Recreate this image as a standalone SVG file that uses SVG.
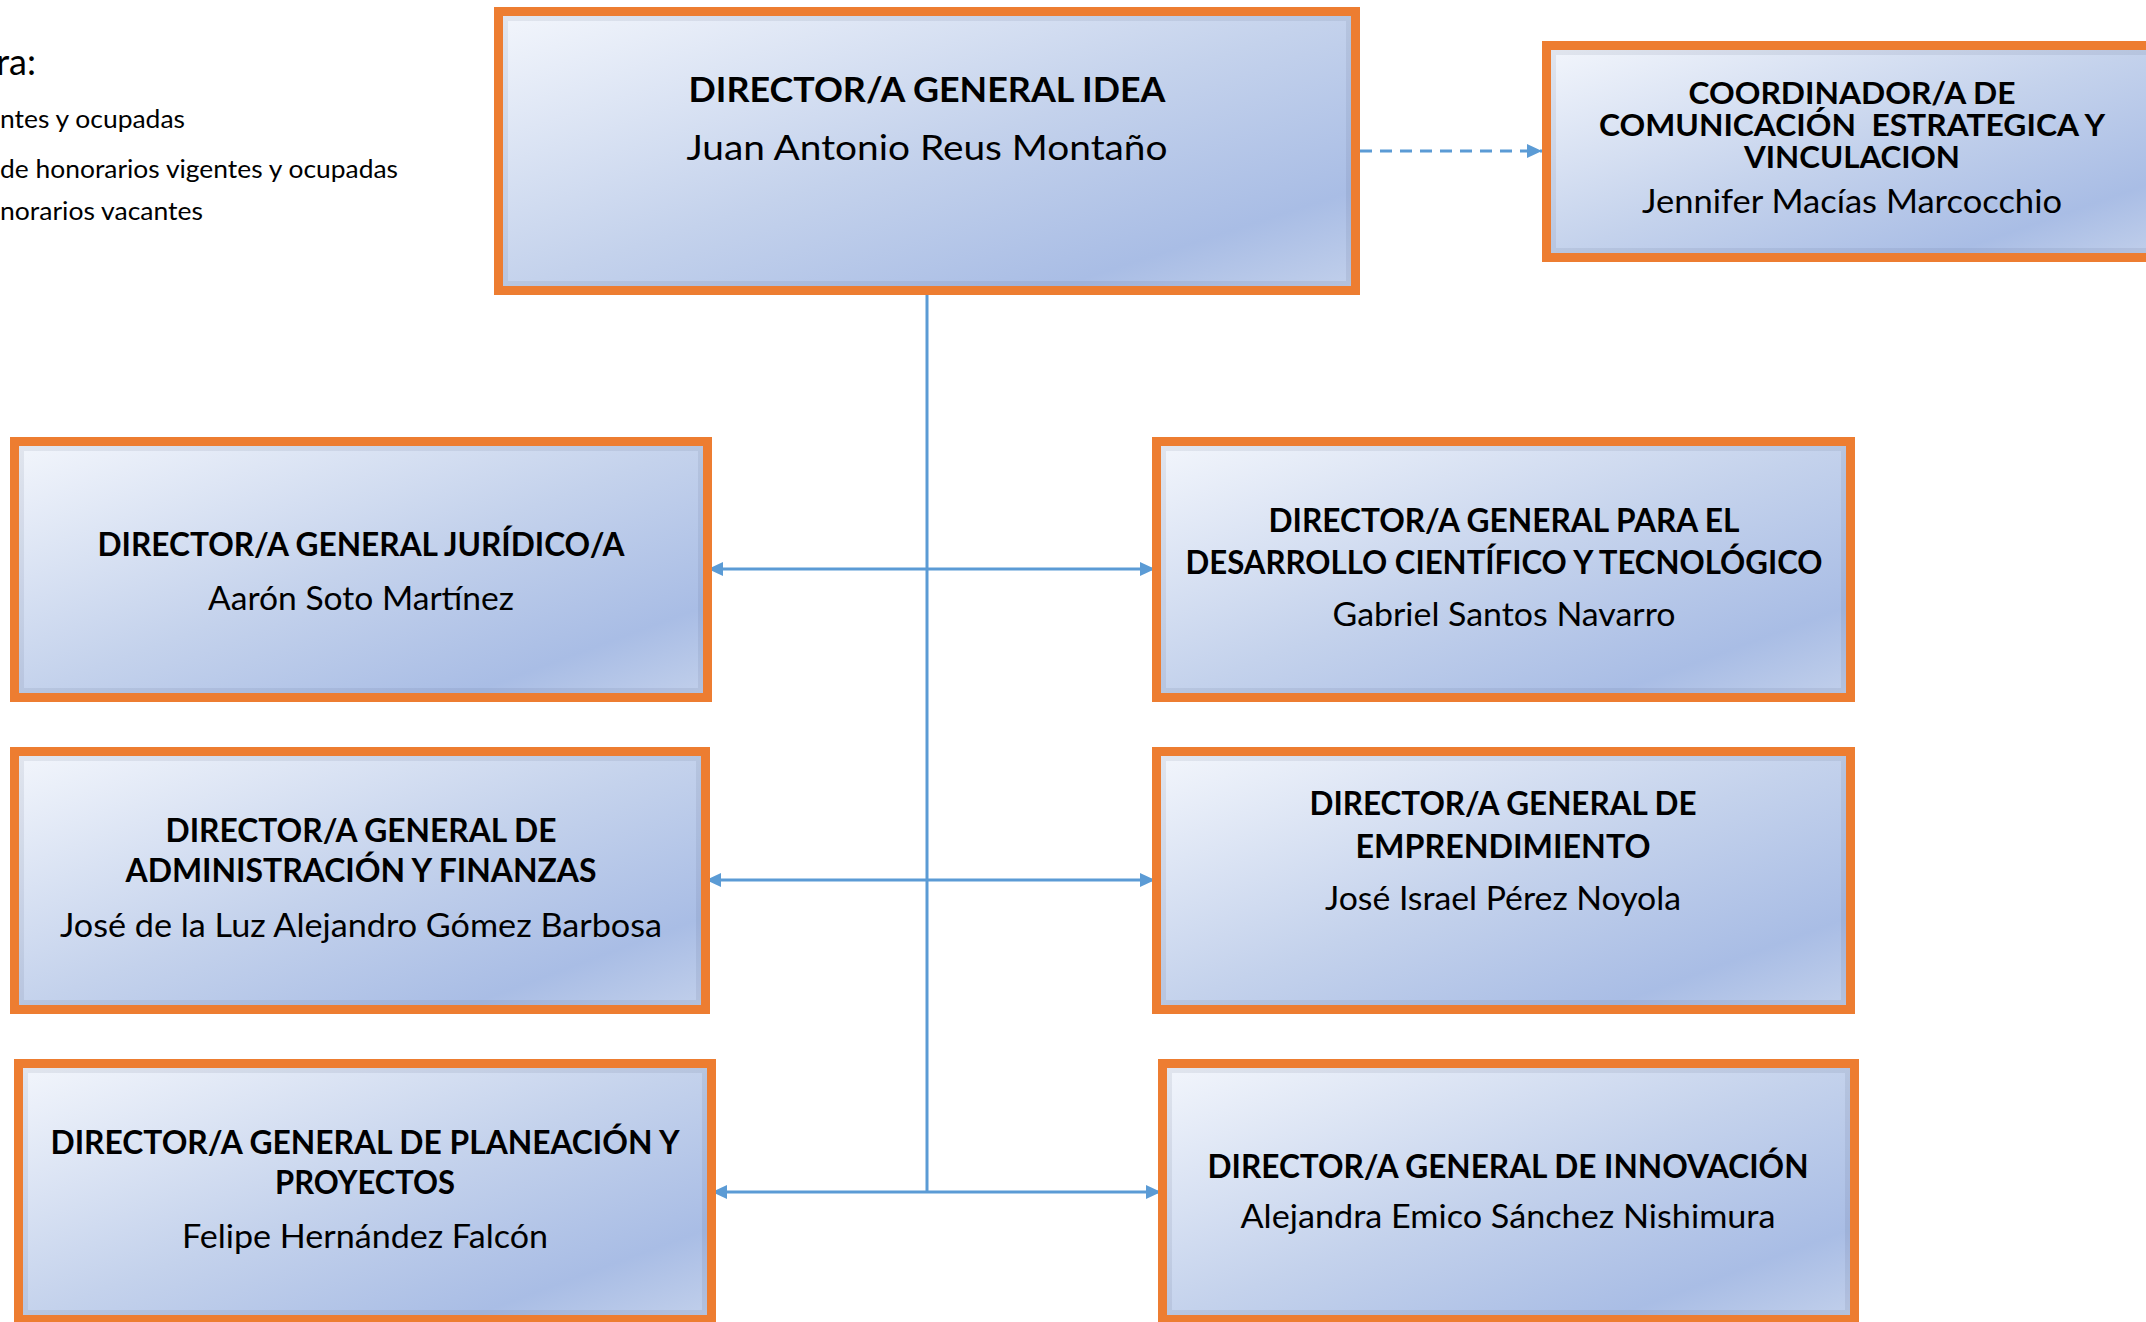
<svg xmlns="http://www.w3.org/2000/svg" width="2146" height="1322" viewBox="0 0 2146 1322">
<defs>
<linearGradient id="g" x1="0" y1="0" x2="1" y2="1">
<stop offset="0" stop-color="#F3F6FC"/>
<stop offset="0.5" stop-color="#C4D2EC"/>
<stop offset="0.82" stop-color="#A9BDE5"/>
<stop offset="1" stop-color="#C2D0EB"/>
</linearGradient>
<marker id="ah" markerUnits="userSpaceOnUse" markerWidth="16" markerHeight="15" refX="15" refY="7" orient="auto-start-reverse" viewBox="0 0 16 15">
<path d="M0,0 L15,7 L0,14 z" fill="#5B9BD5"/>
</marker>
</defs>
<style>
.bx{fill:url(#g);stroke:#ED7D31;stroke-width:9}
.sh{fill:none;stroke:#3C4664;stroke-opacity:0.09;stroke-width:5}
.t{font-family:Lato,"Liberation Sans",sans-serif;font-weight:bold;font-size:32px;text-anchor:middle;fill:#000}
.n{font-family:Lato,"Liberation Sans",sans-serif;font-weight:normal;font-size:33px;text-anchor:middle;fill:#000}
.lg{font-family:Lato,"Liberation Sans",sans-serif;font-size:25px;text-anchor:end;fill:#000}
.cn{fill:none;stroke:#5B9BD5;stroke-width:3}
</style>
<rect width="2146" height="1322" fill="#FFFFFF"/>

<g id="legend">
<text class="lg" x="36" y="75" style="font-size:36px">ra:</text>
<text class="lg" x="185" y="128" textLength="185" lengthAdjust="spacingAndGlyphs">ntes y ocupadas</text>
<text class="lg" x="398" y="178" textLength="398" lengthAdjust="spacingAndGlyphs">de honorarios vigentes y ocupadas</text>
<text class="lg" x="203" y="220" textLength="203" lengthAdjust="spacingAndGlyphs">norarios vacantes</text>
</g>

<g id="connectors">
<line class="cn" x1="927" y1="295" x2="927" y2="1192"/>
<line class="cn" x1="708" y1="569" x2="1155" y2="569" marker-start="url(#ah)" marker-end="url(#ah)"/>
<line class="cn" x1="706" y1="880" x2="1155" y2="880" marker-start="url(#ah)" marker-end="url(#ah)"/>
<line class="cn" x1="712" y1="1192" x2="1161" y2="1192" marker-start="url(#ah)" marker-end="url(#ah)"/>
<line class="cn" x1="1360" y1="151" x2="1542" y2="151" stroke-dasharray="12 8" marker-end="url(#ah)"/>
</g>

<g id="director-general">
<rect class="bx" x="498.5" y="11.5" width="857" height="279"/>
<rect class="sh" x="505.5" y="18.5" width="843" height="265"/>
<text class="t" x="927" y="102" style="font-size:34px" textLength="477" lengthAdjust="spacingAndGlyphs">DIRECTOR/A GENERAL IDEA</text>
<text class="n" x="927" y="160" style="font-size:35px" textLength="481" lengthAdjust="spacingAndGlyphs">Juan Antonio Reus Montaño</text>
</g>

<g id="coordinador-comunicacion">
<rect class="bx" x="1546.5" y="45.5" width="611" height="212"/>
<rect class="sh" x="1553.5" y="52.5" width="597" height="198"/>
<text class="t" x="1852" y="104" style="font-size:31px" textLength="327" lengthAdjust="spacingAndGlyphs">COORDINADOR/A DE</text>
<text class="t" x="1852" y="136" style="font-size:31px" xml:space="preserve" textLength="506" lengthAdjust="spacingAndGlyphs">COMUNICACIÓN  ESTRATEGICA Y</text>
<text class="t" x="1852" y="168" style="font-size:31px" textLength="216" lengthAdjust="spacingAndGlyphs">VINCULACION</text>
<text class="n" x="1852" y="213" style="font-size:32px" textLength="420" lengthAdjust="spacingAndGlyphs">Jennifer Macías Marcocchio</text>
</g>

<g id="juridico">
<rect class="bx" x="14.5" y="441.5" width="693" height="256"/>
<rect class="sh" x="21.5" y="448.5" width="679" height="242"/>
<text class="t" x="361" y="556" textLength="527" lengthAdjust="spacingAndGlyphs">DIRECTOR/A GENERAL JURÍDICO/A</text>
<text class="n" x="361" y="610" textLength="306" lengthAdjust="spacingAndGlyphs">Aarón Soto Martínez</text>
</g>

<g id="desarrollo">
<rect class="bx" x="1156.5" y="441.5" width="694" height="256"/>
<rect class="sh" x="1163.5" y="448.5" width="680" height="242"/>
<text class="t" x="1504" y="532" textLength="471" lengthAdjust="spacingAndGlyphs">DIRECTOR/A GENERAL PARA EL</text>
<text class="t" x="1504" y="574" textLength="637" lengthAdjust="spacingAndGlyphs">DESARROLLO CIENTÍFICO Y TECNOLÓGICO</text>
<text class="n" x="1504" y="626" textLength="343" lengthAdjust="spacingAndGlyphs">Gabriel Santos Navarro</text>
</g>

<g id="administracion">
<rect class="bx" x="14.5" y="751.5" width="691" height="258"/>
<rect class="sh" x="21.5" y="758.5" width="677" height="244"/>
<text class="t" x="361" y="842" textLength="391" lengthAdjust="spacingAndGlyphs">DIRECTOR/A GENERAL DE</text>
<text class="t" x="361" y="882" textLength="471" lengthAdjust="spacingAndGlyphs">ADMINISTRACIÓN Y FINANZAS</text>
<text class="n" x="361" y="937" textLength="602" lengthAdjust="spacingAndGlyphs">José de la Luz Alejandro Gómez Barbosa</text>
</g>

<g id="emprendimiento">
<rect class="bx" x="1156.5" y="751.5" width="694" height="258"/>
<rect class="sh" x="1163.5" y="758.5" width="680" height="244"/>
<text class="t" x="1503" y="815" textLength="387" lengthAdjust="spacingAndGlyphs">DIRECTOR/A GENERAL DE</text>
<text class="t" x="1503" y="858" textLength="295" lengthAdjust="spacingAndGlyphs">EMPRENDIMIENTO</text>
<text class="n" x="1503" y="910" textLength="356" lengthAdjust="spacingAndGlyphs">José Israel Pérez Noyola</text>
</g>

<g id="planeacion">
<rect class="bx" x="18.5" y="1063.5" width="693" height="256"/>
<rect class="sh" x="25.5" y="1070.5" width="679" height="242"/>
<text class="t" x="365" y="1154" textLength="629" lengthAdjust="spacingAndGlyphs">DIRECTOR/A GENERAL DE PLANEACIÓN Y</text>
<text class="t" x="365" y="1194" textLength="180" lengthAdjust="spacingAndGlyphs">PROYECTOS</text>
<text class="n" x="365" y="1248" textLength="366" lengthAdjust="spacingAndGlyphs">Felipe Hernández Falcón</text>
</g>

<g id="innovacion">
<rect class="bx" x="1162.5" y="1063.5" width="692" height="256"/>
<rect class="sh" x="1169.5" y="1070.5" width="678" height="242"/>
<text class="t" x="1508" y="1178" textLength="601" lengthAdjust="spacingAndGlyphs">DIRECTOR/A GENERAL DE INNOVACIÓN</text>
<text class="n" x="1508" y="1228" textLength="535" lengthAdjust="spacingAndGlyphs">Alejandra Emico Sánchez Nishimura</text>
</g>
</svg>
